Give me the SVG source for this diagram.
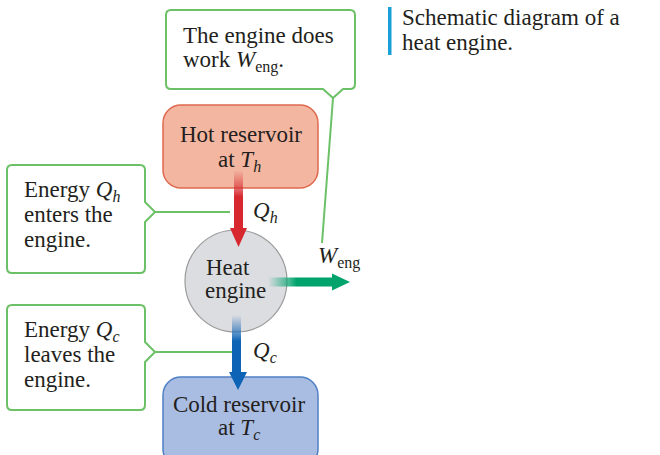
<svg xmlns="http://www.w3.org/2000/svg" width="660" height="455" viewBox="0 0 660 455">
<style>
text{font-family:"Liberation Serif","Times New Roman",serif;font-size:23px;fill:#231f20}
.i{font-style:italic}
.sub{font-size:16px}
.callout{fill:#fff;stroke:#6cc167;stroke-width:2;stroke-linejoin:round}
.lead{fill:none;stroke:#6cc167;stroke-width:2}
</style>
<defs>
<linearGradient id="gRed" x1="0" y1="0" x2="0" y2="1">
<stop offset="0" stop-color="#d7282f" stop-opacity="0"/>
<stop offset="0.35" stop-color="#d7282f"/>
<stop offset="1" stop-color="#d7282f"/>
</linearGradient>
<linearGradient id="gGreen" x1="0" y1="0" x2="1" y2="0">
<stop offset="0" stop-color="#00a36c" stop-opacity="0"/>
<stop offset="0.35" stop-color="#00a36c"/>
<stop offset="1" stop-color="#00a36c"/>
</linearGradient>
<linearGradient id="gBlue" x1="0" y1="0" x2="0" y2="1">
<stop offset="0" stop-color="#0d63b5" stop-opacity="0"/>
<stop offset="0.35" stop-color="#0d63b5"/>
<stop offset="1" stop-color="#0d63b5"/>
</linearGradient>
</defs>

<g id="caption">
<rect x="388" y="7" width="3.5" height="48" fill="#1aa0d8"/>
<text x="402" y="25">Schematic diagram of a</text>
<text x="402" y="50">heat engine.</text>
</g>

<g id="hot-reservoir">
<rect x="163" y="105" width="155" height="83" rx="18" fill="#f3b6a1" stroke="#e06a50" stroke-width="1.5"/>
<text x="241" y="142" text-anchor="middle">Hot reservoir</text>
<text x="218" y="167">at <tspan class="i">T</tspan><tspan class="i sub" dy="5">h</tspan></text>
</g>

<g id="heat-engine">
<circle cx="236" cy="281" r="51" fill="#dcdde0" stroke="#9a9a9c" stroke-width="1.2"/>
<text x="206" y="275">Heat</text>
<text x="205" y="298">engine</text>
</g>

<g id="cold-reservoir">
<rect x="163" y="377" width="155" height="90" rx="18" fill="#a9bde3" stroke="#4f7fc4" stroke-width="1.5"/>
<text x="239" y="412" text-anchor="middle">Cold reservoir</text>
<text x="218" y="435">at <tspan class="i">T</tspan><tspan class="i sub" dy="5">c</tspan></text>
</g>

<g id="callout-work">
<path class="callout" d="M171,10 H350 Q355,10 355,15 V84 Q355,89 350,89 H343 L333,98 L323,89 H171 Q166,89 166,84 V15 Q166,10 171,10 Z"/>
<text x="183" y="43">The engine does</text>
<text x="183" y="67">work <tspan class="i">W</tspan><tspan class="sub" dy="5">eng</tspan><tspan dy="-5">.</tspan></text>
</g>

<g id="callout-qh">
<path class="callout" d="M12,165 H140 Q145,165 145,170 V202 L155,212 L145,222 V268 Q145,273 140,273 H12 Q7,273 7,268 V170 Q7,165 12,165 Z"/>
<text x="24" y="197">Energy <tspan class="i">Q</tspan><tspan class="i sub" dy="5">h</tspan></text>
<text x="24" y="222">enters the</text>
<text x="24" y="247">engine.</text>
</g>

<g id="callout-qc">
<path class="callout" d="M12,305 H140 Q145,305 145,310 V342 L155,352 L145,362 V405 Q145,410 140,410 H12 Q7,410 7,405 V310 Q7,305 12,305 Z"/>
<text x="24" y="337">Energy <tspan class="i">Q</tspan><tspan class="i sub" dy="5">c</tspan></text>
<text x="24" y="362">leaves the</text>
<text x="24" y="387">engine.</text>
</g>

<g id="connectors">
<path class="lead" d="M333,98 L322,243"/>
<path class="lead" d="M155,212 H230"/>
<path class="lead" d="M155,352 H232"/>
<path d="M234,170 H243 V228 H247 L238.5,247 L230,228 H234 Z" fill="url(#gRed)"/>
<path d="M268,277.5 H332 V273.5 L350,282 L332,290.5 V286.5 H268 Z" fill="url(#gGreen)"/>
<path d="M232,315 H241 V372 H247 L238,390 L229,372 H232 Z" fill="url(#gBlue)"/>
</g>

<g id="labels">
<text x="253" y="218"><tspan class="i">Q</tspan><tspan class="i sub" dy="5">h</tspan></text>
<text x="253" y="358"><tspan class="i">Q</tspan><tspan class="i sub" dy="5">c</tspan></text>
<text x="318" y="263"><tspan class="i">W</tspan><tspan class="sub" dy="5">eng</tspan></text>
</g>
</svg>
